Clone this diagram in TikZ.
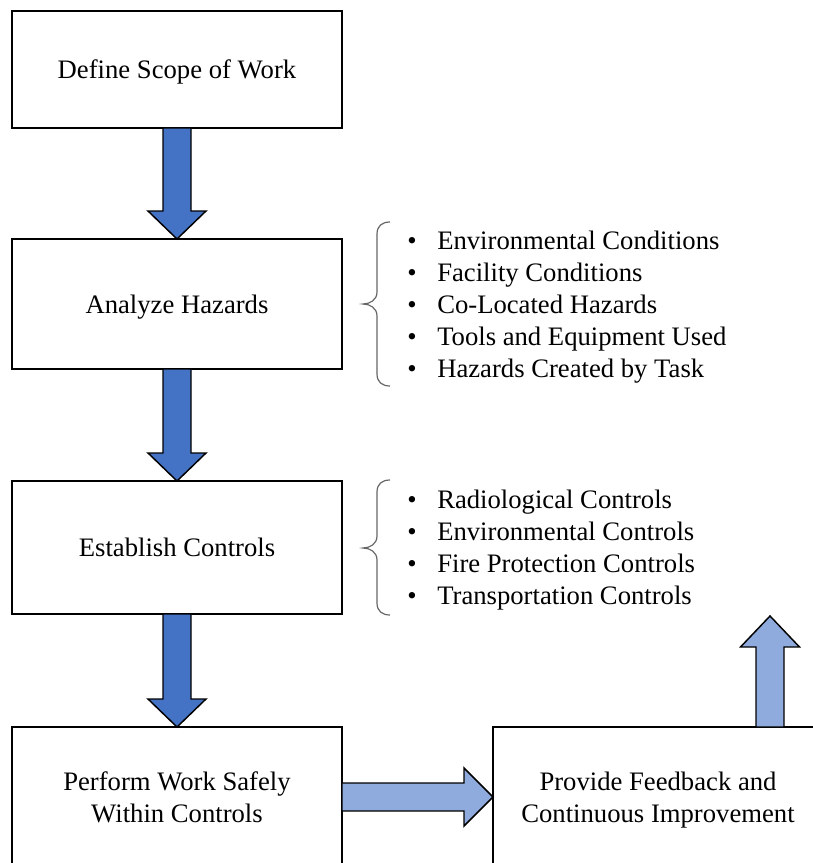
\documentclass[tikz,border=0pt]{standalone}
\usepackage{fontspec}
\setmainfont{Liberation Serif}
\usetikzlibrary{calc}
\definecolor{darkblue}{HTML}{4472C4}
\definecolor{lightblue}{HTML}{8FAADC}
\newcommand\fatdown[3]{%
  \draw[#3] ($(#1)+(-14,0)$) -- ($(#2)+(-14,-28)$) -- ($(#2)+(-29,-28)$) -- (#2)
    -- ($(#2)+(29,-28)$) -- ($(#2)+(14,-28)$) -- ($(#1)+(14,0)$) -- cycle;}
\begin{document}
\begin{tikzpicture}[x=0.75pt,y=-0.75pt,
  box/.style={draw=black, line width=1.5pt, fill=white, minimum width=247.5pt,
    inner sep=0pt, outer sep=0pt, align=center, font=\fontsize{20}{24}\selectfont},
  fatdark/.style={draw=black, line width=1.1pt, fill=darkblue, line join=miter},
  fatlight/.style={draw=black, line width=1.1pt, fill=lightblue, line join=miter},
  bracestyle/.style={draw=black!60, line width=0.9pt},
  itemtext/.style={anchor=base west, inner sep=0pt, font=\fontsize{20}{24}\selectfont},
  bullet/.style={anchor=base, inner sep=0pt, font=\fontsize{20}{24}\selectfont}]
\useasboundingbox (0,0) rectangle (813,863);
\clip (0,0) rectangle (813,863);

\node[box, text depth=0pt, minimum height=87.75pt] (b1) at (177,69.5) {Define Scope of Work};
\node[box, text depth=0pt, minimum height=97.5pt] (b2) at (177,304) {Analyze Hazards};
\node[box, minimum height=99.75pt] (b3) at (177,547.5) {Establish Controls};
\node[box, minimum height=105pt] (b4) at (177,797) {Perform Work Safely\\Within Controls};
\node[box, text depth=0pt, minimum height=105pt] (b5) at (658,797) {Provide Feedback and\\Continuous Improvement};

\fatdown{b1.south}{b2.north}{fatdark}
\fatdown{b2.south}{b3.north}{fatdark}
\fatdown{b3.south}{b4.north}{fatdark}

\draw[fatlight] ($(b4.east)+(0,-14)$) -- ($(b5.west)+(-29,-14)$) -- ($(b5.west)+(-29,-29)$)
  -- (b5.west) -- ($(b5.west)+(-29,29)$) -- ($(b5.west)+(-29,14)$) -- ($(b4.east)+(0,14)$) -- cycle;

\coordinate (fb) at (770,616);
\coordinate (ub) at (b5.north -| fb);
\draw[fatlight] ($(ub)+(-14,0)$) -- ($(fb)+(-14,31)$) -- ($(fb)+(-29.5,31)$) -- (fb)
  -- ($(fb)+(29.5,31)$) -- ($(fb)+(14,31)$) -- ($(ub)+(14,0)$) -- cycle;

% braces
\draw[bracestyle] (390,222) .. controls (382,222) and (377,226) .. (377,234) -- (377,292)
  .. controls (377,300) and (370,304) .. (363,304) .. controls (370,304) and (377,308) .. (377,316)
  -- (377,374) .. controls (377,382) and (382,386) .. (390,386);
\draw[bracestyle] (390,480) .. controls (382,480) and (377,484) .. (377,492) -- (377,536)
  .. controls (377,544) and (370,548) .. (363,548) .. controls (370,548) and (377,552) .. (377,560)
  -- (377,603) .. controls (377,611) and (382,615) .. (390,615);

\foreach \t [count=\i] in {Environmental Conditions, Facility Conditions, Co-Located Hazards, Tools and Equipment Used, Hazards Created by Task} {
  \node[bullet] (hb\i) at (412,{249+32*(\i-1)}) {•};
  \node[itemtext] (h\i) at (437,{249+32*(\i-1)}) {\t};
}
\foreach \t [count=\i] in {Radiological Controls, Environmental Controls, Fire Protection Controls, Transportation Controls} {
  \node[bullet] (cb\i) at (412,{508+32*(\i-1)}) {•};
  \node[itemtext] (c\i) at (437,{508+32*(\i-1)}) {\t};
}
\end{tikzpicture}
\end{document}
